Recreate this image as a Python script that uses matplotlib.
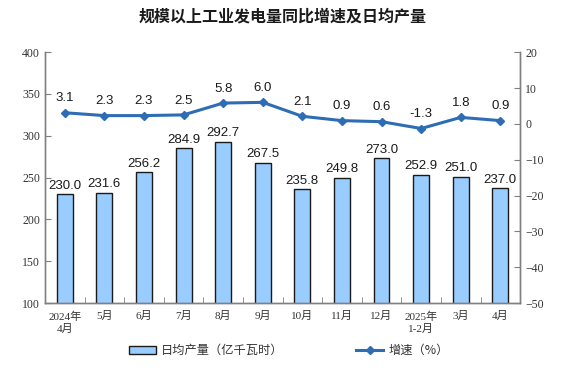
import matplotlib
matplotlib.use("Agg")
import matplotlib.pyplot as plt
from matplotlib.patches import Patch
from matplotlib.lines import Line2D

plt.rcParams['font.family'] = ['Liberation Serif', 'Noto Sans CJK SC', 'DejaVu Sans']

categories = ['2024年\n4月', '5月', '6月', '7月', '8月', '9月', '10月', '11月', '12月', '2025年\n1-2月', '3月', '4月']
daily_output = [230.0, 231.6, 256.2, 284.9, 292.7, 267.5, 235.8, 249.8, 273.0, 252.9, 251.0, 237.0]
growth = [3.1, 2.3, 2.3, 2.5, 5.8, 6.0, 2.1, 0.9, 0.6, -1.3, 1.8, 0.9]
left_ticks = [100, 150, 200, 250, 300, 350, 400]
right_ticks = [-50, -40, -30, -20, -10, 0, 10, 20]

bar_color = '#99CCFF'
line_color = '#2E6DB4'
spine_color = '#808080'
text_color = '#333333'

fig = plt.figure(figsize=(5.66, 3.70), dpi=100)
ax = fig.add_axes([0.0795, 0.181, 0.8395, 0.678])
ax2 = ax.twinx()

x = list(range(len(categories)))
ax.bar(x, daily_output, width=0.4, color=bar_color, edgecolor='#1a1a1a', linewidth=1.0, zorder=2)
for xi, v in zip(x, daily_output):
    ax.annotate(f'{v:.1f}', (xi, v), xytext=(0, 2), textcoords='offset points',
                ha='center', va='bottom', fontsize=9.5, family=['Liberation Sans', 'DejaVu Sans'],
                color='#1a1a1a')

ax2.plot(x, growth, color=line_color, linewidth=2.2, marker='D', markersize=4.5, zorder=3)
for xi, v in zip(x, growth):
    ax2.annotate(f'{v:.1f}', (xi, v), xytext=(0, 6), textcoords='offset points',
                 ha='center', va='bottom', fontsize=9.5, family=['Liberation Sans', 'DejaVu Sans'],
                 color='#1a1a1a')

ax.set_xlim(-0.5, len(categories) - 0.5)
ax.set_ylim(100, 400)
ax2.set_ylim(-50, 20)
ax.set_yticks(left_ticks)
ax2.set_yticks(right_ticks)

ax.set_xticks(x)
ax.set_xticklabels(categories, fontsize=8, color=text_color, linespacing=1.3)
ax.tick_params(axis='x', which='major', length=0, pad=6)
ax.set_xticks([i + 0.5 for i in range(len(categories) - 1)], minor=True)
ax.tick_params(axis='x', which='minor', direction='in', length=4, color=spine_color)
ax.tick_params(axis='y', direction='in', length=4, color=spine_color, labelsize=8.5, labelcolor=text_color)
ax2.tick_params(axis='y', direction='in', length=4, color=spine_color, labelsize=8.5, labelcolor=text_color)

for a in (ax, ax2):
    a.spines['top'].set_visible(False)
    for s in ('left', 'right', 'bottom'):
        a.spines[s].set_color(spine_color)
        a.spines[s].set_linewidth(1.0)

fig.text(0.5, 0.955, '规模以上工业发电量同比增速及日均产量', ha='center', va='center',
         fontsize=11.5, fontweight='bold', family=['Noto Sans CJK SC', 'DejaVu Sans'], color='#1a1a1a')

handles = [Patch(facecolor=bar_color, edgecolor='#1a1a1a', linewidth=1.0),
           Line2D([0], [0], color=line_color, linewidth=2.2, marker='D', markersize=4.5)]
labels = ['日均产量（亿千瓦时）', '增速（%）']
fig.legend(handles, labels, loc='center', bbox_to_anchor=(0.51, 0.052), ncol=2, frameon=False,
           columnspacing=6, handlelength=2.2, handletextpad=0.4, labelcolor=text_color,
           prop={'family': ['Noto Sans CJK SC', 'DejaVu Sans'], 'size': 8.8})

fig.savefig('out.png', dpi=100)
